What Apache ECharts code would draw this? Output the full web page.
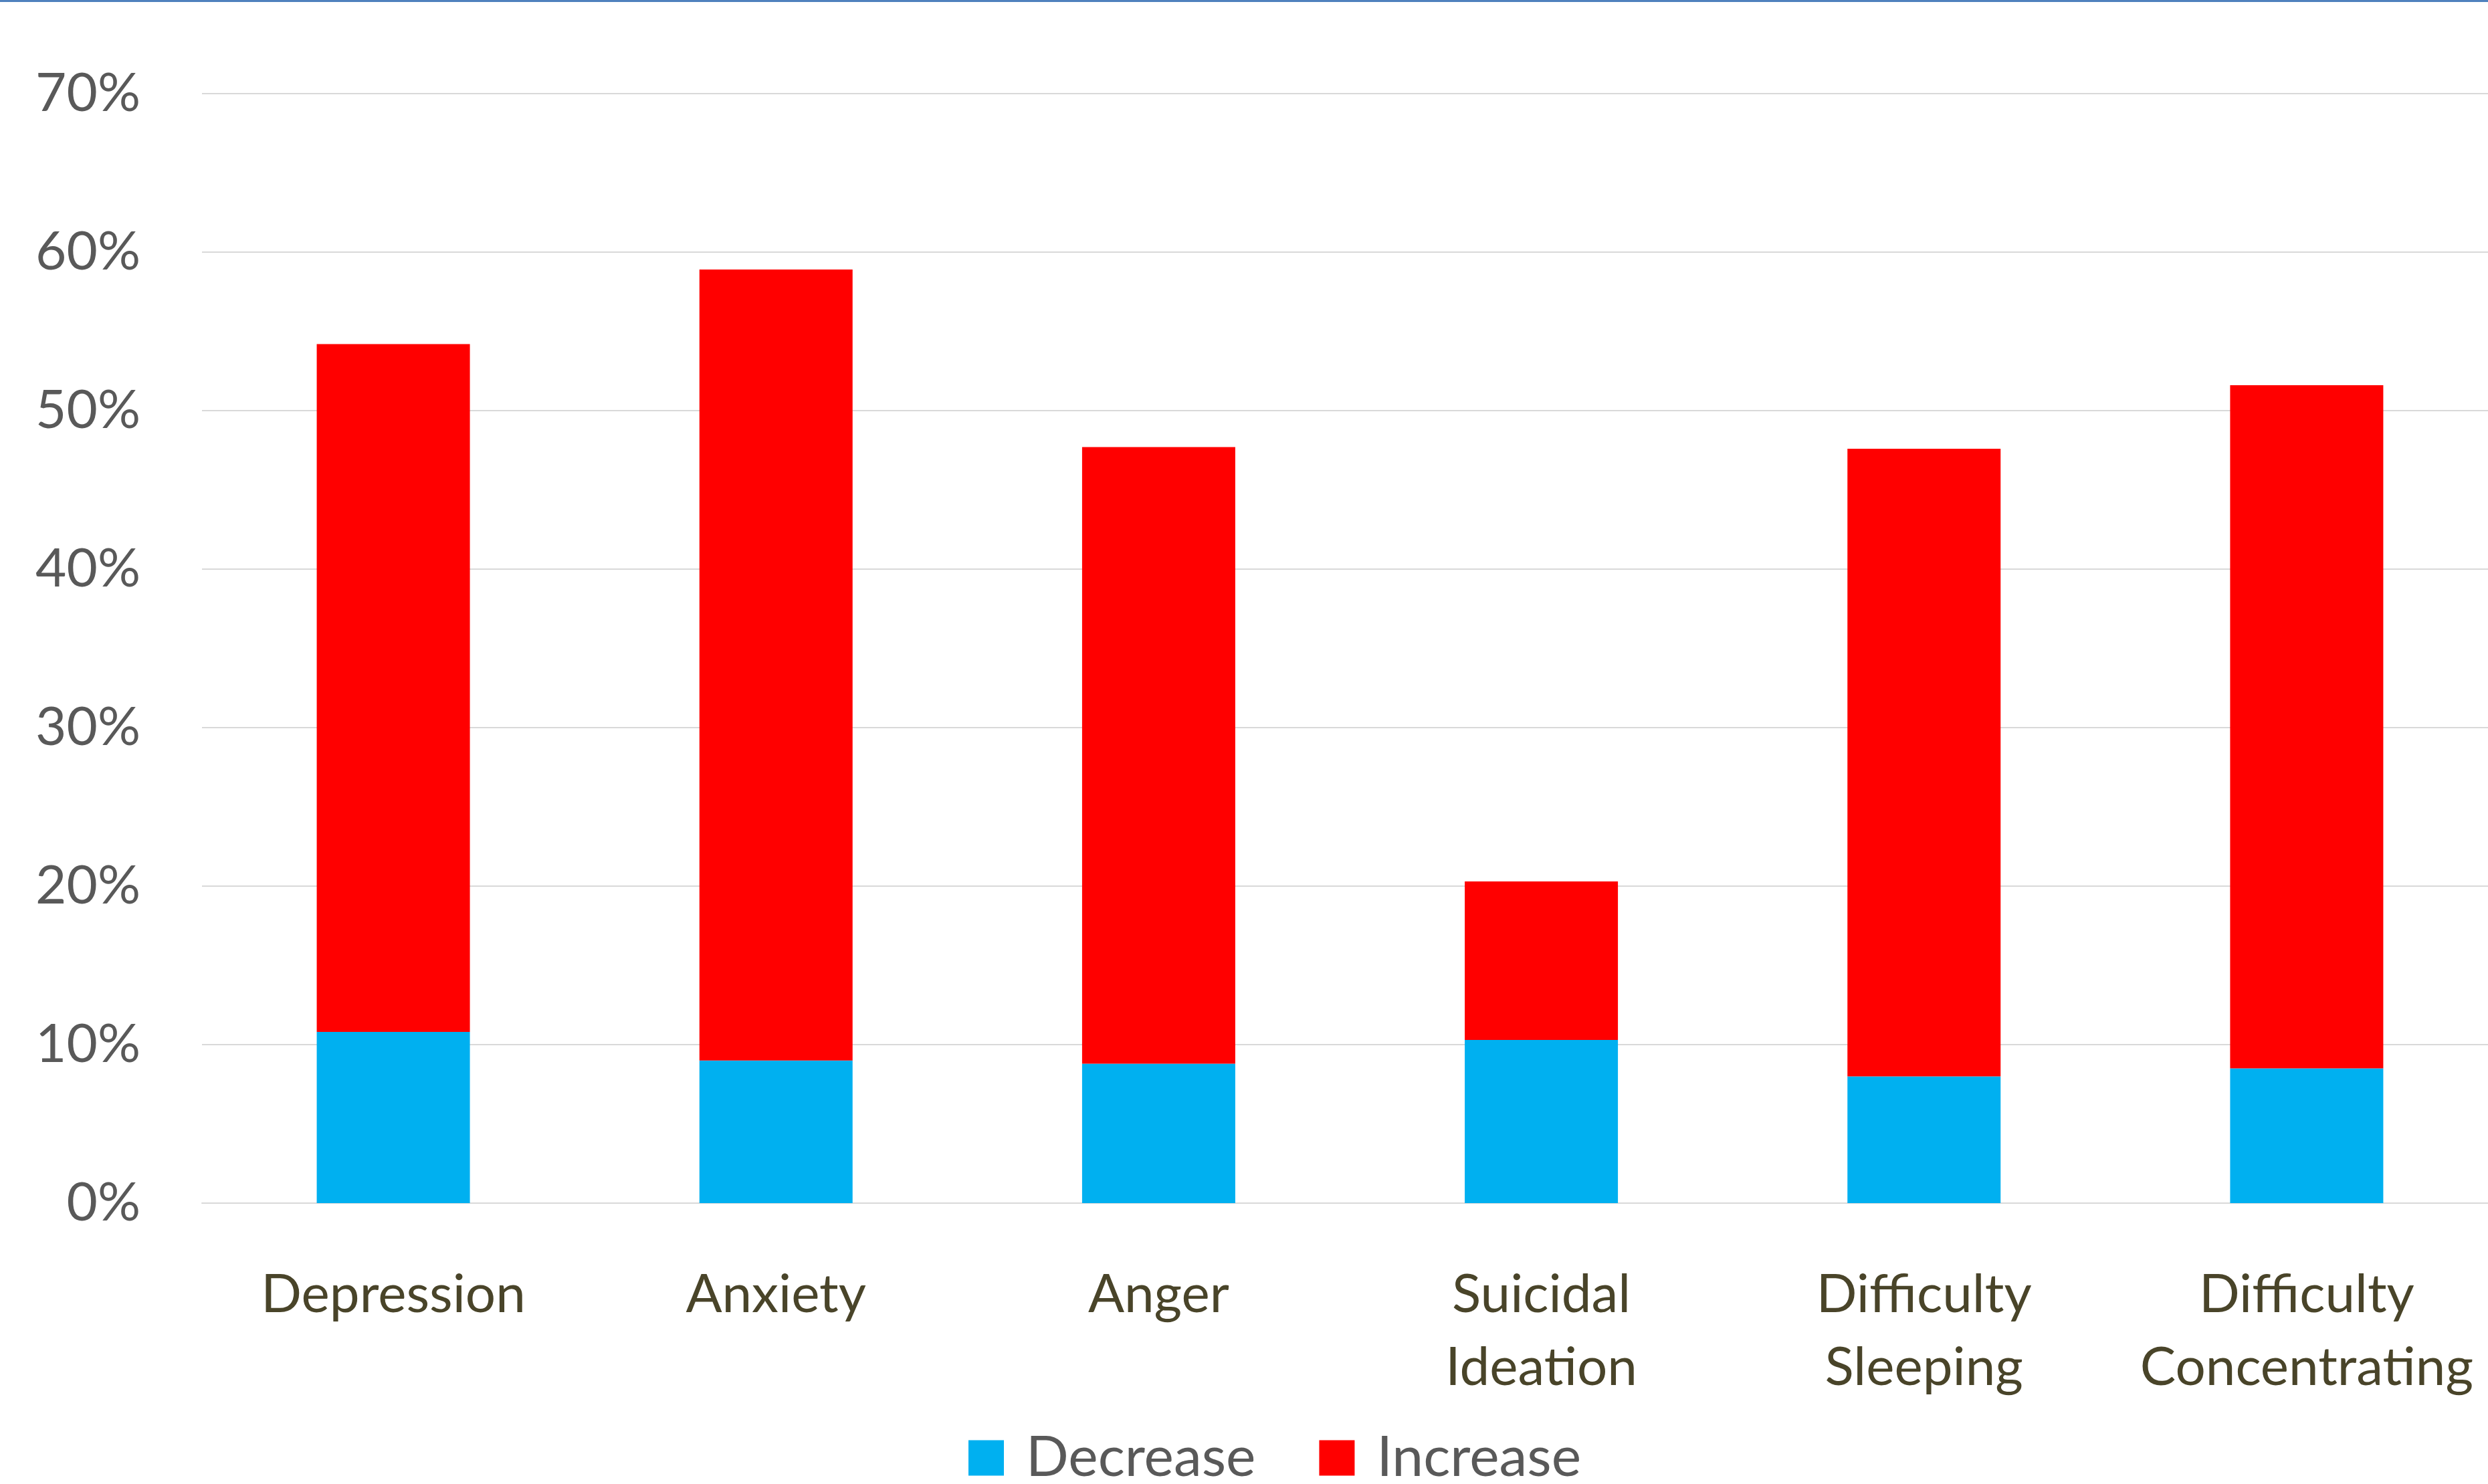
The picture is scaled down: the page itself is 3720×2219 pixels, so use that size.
<!DOCTYPE html>
<html>
<head>
<meta charset="utf-8">
<script src="https://cdn.jsdelivr.net/npm/echarts@6/dist/echarts.min.js"></script>
<style>
  html, body { margin: 0; padding: 0; background: #ffffff; }
  #chart { width: 3720px; height: 2219px; }
</style>
</head>
<body>
<div id="chart"></div>
<script>
const categories = ['Depression', 'Anxiety', 'Anger', 'Suicidal\nIdeation', 'Difficulty\nSleeping', 'Difficulty\nConcentrating'];
const decreaseValues = [10.8, 9.0, 8.8, 10.3, 8.0, 8.5];
const increaseValues = [43.4, 49.9, 38.9, 10.0, 39.6, 43.1];
const yTicks = [0, 10, 20, 30, 40, 50, 60, 70];

const chart = echarts.init(document.getElementById('chart'), null, { renderer: 'canvas' });
const font = 'Lato';

chart.setOption({
  backgroundColor: '#ffffff',
  animation: false,
  graphic: [{
    type: 'rect',
    left: 0, top: 0,
    shape: { width: 3720, height: 3 },
    style: { fill: '#4F81BD' },
    silent: true
  }],
  grid: {
    left: 302,
    top: 140,
    width: 3433,
    height: 1659,
    containLabel: false,
    outerBoundsMode: 'none'
  },
  legend: {
    data: ['Decrease', 'Increase'],
    left: 1448,
    top: 2138,
    padding: 0,
    icon: 'rect',
    itemWidth: 53,
    itemHeight: 53,
    itemGap: 95,
    textStyle: {
      fontFamily: font,
      fontSize: 84,
      lineHeight: 53,
      color: '#595959',
      padding: [0, 0, 0, 28]
    }
  },
  xAxis: {
    type: 'category',
    data: categories,
    axisLine: { show: true, lineStyle: { color: '#D9D9D9', width: 2 } },
    axisTick: { show: false },
    axisLabel: {
      interval: 0,
      margin: 83,
      fontFamily: font,
      fontSize: 80,
      lineHeight: 109,
      color: '#494429'
    }
  },
  yAxis: {
    type: 'value',
    min: yTicks[0],
    max: yTicks[yTicks.length - 1],
    interval: 10,
    axisLine: { show: false },
    axisTick: { show: false },
    splitLine: { show: true, lineStyle: { color: '#D9D9D9', width: 2 } },
    axisLabel: {
      margin: 92,
      fontFamily: font,
      fontSize: 80,
      color: '#595959',
      formatter: '{value}%'
    }
  },
  series: [
    {
      name: 'Decrease',
      type: 'bar',
      stack: 'total',
      barWidth: 229,
      data: decreaseValues,
      itemStyle: { color: '#00B0F0' }
    },
    {
      name: 'Increase',
      type: 'bar',
      stack: 'total',
      barWidth: 229,
      data: increaseValues,
      itemStyle: { color: '#FF0000' }
    }
  ]
});
</script>
</body>
</html>
